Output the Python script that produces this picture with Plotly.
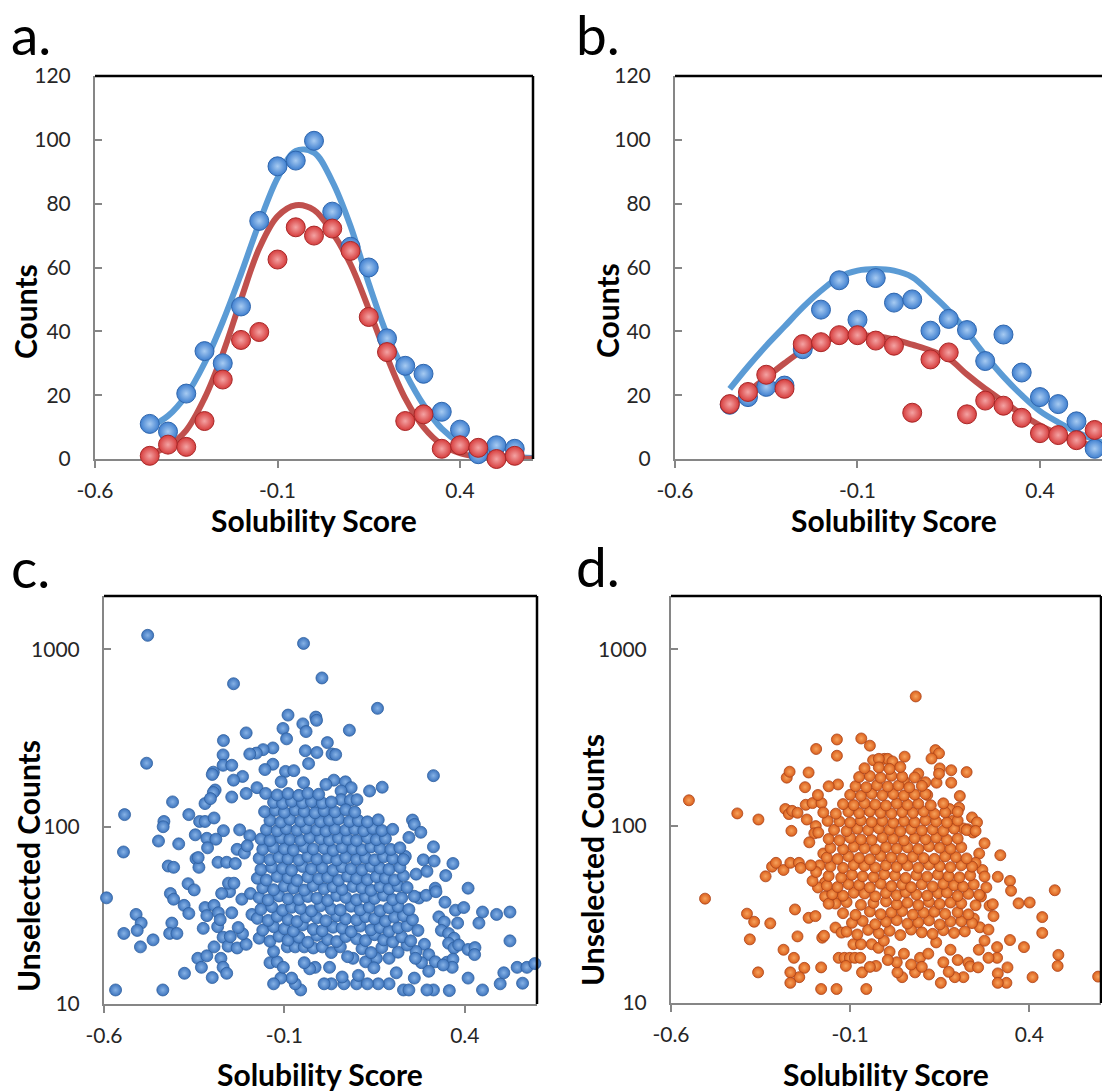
import plotly.graph_objects as go

# ---------------- Panel a ----------------
a_score = [-0.45, -0.40, -0.35, -0.30, -0.25, -0.20, -0.15, -0.10, -0.05, 0.00, 0.05,
           0.10, 0.15, 0.20, 0.25, 0.30, 0.35, 0.40, 0.45, 0.50, 0.55]
a_blue = [11.0, 8.6, 20.5, 33.8, 30.0, 47.8, 74.6, 91.7, 93.5, 99.7, 77.5,
          66.5, 60.0, 37.8, 29.2, 26.7, 14.8, 9.2, 1.5, 4.3, 3.2]
a_red = [1.0, 4.5, 3.8, 11.9, 24.9, 37.3, 39.8, 62.5, 72.6, 70.0, 72.2,
         65.2, 44.5, 33.5, 11.9, 14.0, 3.2, 4.3, 3.5, 0.0, 1.0]
fit_score = [-0.45, -0.40, -0.35, -0.30, -0.25, -0.20, -0.15, -0.10, -0.05, 0.00, 0.05,
             0.10, 0.15, 0.20, 0.25, 0.30, 0.35, 0.40, 0.45, 0.50, 0.55, 0.60]
a_blue_fit = [10.0, 13.5, 20.0, 30.0, 43.0, 58.0, 74.0, 88.0, 96.5, 96.0, 87.0,
              73.0, 55.0, 39.0, 27.0, 17.0, 9.5, 5.0, 2.5, 1.2, 0.6, 0.3]
a_red_fit = [1.5, 4.0, 9.0, 19.0, 33.0, 50.0, 66.0, 76.0, 79.5, 78.0, 71.0,
             61.0, 47.0, 32.0, 19.0, 10.0, 4.5, 1.8, 0.7, 0.3, 0.1, 0.05]

# ---------------- Panel b ----------------
b_score = [-0.45, -0.40, -0.35, -0.30, -0.25, -0.20, -0.15, -0.10, -0.05, 0.00, 0.05,
           0.10, 0.15, 0.20, 0.25, 0.30, 0.35, 0.40, 0.45, 0.50, 0.55]
b_blue = [17.0, 19.4, 22.6, 23.0, 34.4, 46.8, 56.0, 43.6, 56.7, 49.0, 50.0,
          40.2, 43.9, 40.4, 30.7, 39.0, 27.1, 19.4, 17.2, 11.8, 3.2]
b_red = [17.2, 21.0, 26.4, 22.0, 36.0, 36.6, 38.8, 38.8, 37.1, 35.5, 14.5,
         31.2, 33.4, 14.0, 18.3, 16.7, 12.9, 8.1, 7.5, 5.9, 9.1]
b_blue_fit = [22.0, 29.0, 35.5, 41.5, 47.5, 52.7, 57.0, 59.0, 59.5, 59.0, 57.0,
              52.0, 46.5, 39.8, 32.5, 25.8, 20.0, 15.0, 11.5, 8.5, 6.0, 4.0]
b_red_fit = [16.0, 21.0, 25.5, 30.0, 34.0, 36.6, 38.2, 38.8, 38.5, 37.5, 35.8,
             34.0, 31.5, 26.5, 22.0, 18.0, 14.0, 10.5, 7.8, 5.6, 4.0, 2.8]

# ---------------- Panel c (blue scatter) ----------------
c_score_out = [
    -0.479, -0.047, 0.004, -0.241, 0.158, -0.090, -0.104, -0.094, -0.049, -0.040,
    -0.013, -0.011, 0.080, -0.206, -0.269, 0.019, -0.042, -0.010, -0.132, -0.159,
    -0.178, -0.196, -0.270, 0.032, 0.042, -0.033, -0.132, -0.270, -0.246, -0.154,
    -0.097, -0.074, -0.297, -0.300, -0.482, 0.313, -0.216, -0.241, -0.109, -0.047,
    0.037, 0.069, 0.015, 0.085, 0.171, 0.136, 0.057, -0.292, -0.176, -0.152,
    -0.206, -0.246, 0.057, 0.083, 0.101, -0.013, -0.297, -0.320, -0.410, -0.305,
    -0.543, -0.546, -0.434, -0.436, -0.365, -0.335, -0.320, -0.295, -0.269, -0.347,
    -0.315, -0.290, -0.313, -0.449, -0.393, -0.345, -0.337, -0.422, -0.407, -0.593,
    -0.511, -0.497, -0.508, -0.545, -0.499, -0.464, -0.568, -0.437, -0.416, -0.407,
    -0.412, -0.418, -0.398, -0.378, -0.365, -0.367, -0.350, -0.339, -0.377, -0.340,
    -0.330, -0.315, -0.300, -0.276, -0.270, -0.260, -0.295, -0.325, -0.320, -0.315,
    -0.295, -0.285, -0.283, -0.278, -0.270, -0.256, -0.231, -0.206, -0.216, -0.246,
    -0.252, -0.255, -0.240, -0.274, -0.284, -0.260, -0.231, -0.236, -0.211, -0.224,
    -0.196, -0.203, -0.218, -0.194, -0.250, -0.228, -0.190,
    0.235, 0.255, 0.260, 0.278, 0.245, 0.313, 0.285, 0.315, 0.265, 0.295,
    0.347, 0.367, 0.318, 0.273, 0.293, 0.320, 0.345, 0.409, 0.374, 0.397,
    0.449, 0.488, 0.525, 0.380, 0.439, 0.328, 0.343, 0.335, 0.355, 0.370,
    0.355, 0.370, 0.383, 0.409, 0.428, 0.427, 0.525, 0.288, 0.265, 0.300,
    0.318, 0.280, 0.263, 0.350, 0.367, 0.365, 0.340, 0.300, 0.260, 0.409,
    0.449, 0.498, 0.508, 0.545, 0.572, 0.594, 0.560, 0.357, 0.313, 0.295,
    0.230, 0.245,
    0.190, 0.210, 0.160, 0.190, 0.155, 0.125, 0.148, 0.100, 0.105, 0.130,
    0.090, 0.065, 0.060, 0.030, 0.010, 0.025, -0.015, -0.030, -0.045, -0.055,
    -0.070, -0.080, -0.110, -0.130, -0.140, -0.120, -0.103, -0.130, -0.092, -0.070,
    -0.045, -0.020, 0.005, 0.030, 0.055, 0.075, 0.115, 0.140, 0.170, 0.215,
    0.240,
]
c_counts_out = [
    1200, 1080, 690, 640, 465, 426, 358, 313, 380, 344,
    415, 398, 350, 338, 306, 298, 268, 262, 278, 272,
    260, 257, 254, 257, 255, 227, 225, 222, 222, 210,
    205, 207, 203, 197, 228, 194, 192, 183, 179, 177,
    183, 179, 173, 166, 167, 159, 159, 161, 166, 154,
    154, 147, 142, 141, 142, 135, 156, 135, 138, 144,
    117, 72, 107, 100, 117, 107, 107, 112, 95, 90,
    86, 85, 76, 83, 80, 66, 59, 60, 59, 39.7,
    32, 28.6, 26, 25, 21, 23, 12, 12, 42, 39,
    28.6, 25, 25, 36, 32.4, 47.7, 44, 67, 14.9, 18.1,
    16.1, 18.7, 14.1, 18.1, 16.1, 14.9, 21, 26.7, 35, 31.5,
    36, 27.3, 32.7, 29.9, 23.8, 21.2, 20.7, 21.7, 24.9, 32.7,
    43, 48, 48, 42, 63, 63, 74.5, 62, 71, 96,
    89, 78, 39, 42, 24, 27, 32,
    68, 109, 103, 93, 87, 77, 65, 64, 54, 56,
    53, 62, 45, 39.6, 41, 43, 37.5, 45, 33.8, 35,
    33, 32, 33, 28.6, 28.6, 31, 29, 26, 25, 23.5,
    22, 20.7, 21.5, 20.3, 20.8, 19, 22.7, 21.7, 19.8, 19,
    17.3, 17.1, 18.1, 17.2, 17.9, 16.1, 16.6, 15.3, 14, 14,
    12, 13, 15, 16.1, 16.1, 16.9, 13.1, 11.9, 12, 12,
    12, 12,
    13, 15, 13, 18.1, 18.1, 17.3, 16, 13, 14.5, 13,
    18.1, 13, 14.2, 13, 13, 16.1, 16.1, 15.8, 17.1, 12,
    13, 14, 14, 13, 17.1, 17.3, 16.1, 19.8, 21, 21,
    21, 20.7, 21, 19.5, 21, 18.5, 20.5, 19.5, 20.8, 19.6,
    21.5,
]
c_score_core = [
    -0.170, -0.140, -0.115, -0.090, -0.060, -0.035, -0.010, 0.020, 0.045, 0.070, 0.100, 0.125, 0.150, 0.175, 0.200, 0.225, 0.250,
    -0.160, -0.130, -0.100, -0.075, -0.050, -0.020, 0.005, 0.035, 0.060, 0.085, 0.110, 0.140, 0.165, 0.190, 0.215, 0.240, 0.270,
    -0.175, -0.145, -0.120, -0.090, -0.065, -0.040, -0.010, 0.015, 0.045, 0.070, 0.100, 0.125, 0.150, 0.180, 0.205, 0.230, 0.255,
    -0.165, -0.135, -0.105, -0.080, -0.055, -0.025, 0.000, 0.030, 0.055, 0.085, 0.110, 0.135, 0.165, 0.190, 0.215, 0.245,
    -0.170, -0.145, -0.115, -0.090, -0.060, -0.035, -0.010, 0.020, 0.045, 0.070, 0.100, 0.125, 0.150, 0.175, 0.200, 0.225, 0.260,
    -0.160, -0.130, -0.100, -0.075, -0.045, -0.020, 0.010, 0.035, 0.060, 0.090, 0.115, 0.140, 0.165, 0.190, 0.215, 0.240,
    -0.175, -0.150, -0.120, -0.090, -0.065, -0.035, -0.005, 0.020, 0.050, 0.075, 0.100, 0.130, 0.155, 0.180, 0.205, 0.230,
    -0.165, -0.135, -0.105, -0.080, -0.050, -0.025, 0.005, 0.035, 0.060, 0.085, 0.115, 0.140, 0.165, 0.190, 0.220,
    -0.170, -0.140, -0.115, -0.090, -0.060, -0.035, -0.010, 0.020, 0.045, 0.070, 0.100, 0.125, 0.150, 0.175, 0.200, 0.230,
    -0.160, -0.130, -0.100, -0.075, -0.045, -0.020, 0.010, 0.035, 0.060, 0.090, 0.115, 0.140, 0.165, 0.195, 0.220,
    -0.165, -0.140, -0.110, -0.085, -0.055, -0.030, 0.000, 0.025, 0.050, 0.075, 0.100, 0.130, 0.155, 0.180,
    -0.150, -0.120, -0.095, -0.065, -0.040, -0.010, 0.015, 0.040, 0.070, 0.095, 0.120, 0.145, 0.170, 0.200,
    -0.140, -0.110, -0.085, -0.055, -0.030, 0.000, 0.025, 0.050, 0.080, 0.105, 0.130, 0.160,
    -0.155, -0.125, -0.100, -0.070, -0.045, -0.015, 0.010, 0.040, 0.070, 0.095,
    -0.130, -0.105, -0.080, -0.050, -0.025, 0.005, 0.030,
    -0.120, -0.090, -0.060, -0.035, -0.005,
]
c_counts_core = [
    23.5, 22.6, 24.1, 22.9, 23.8, 22.3, 24.4, 23.1, 22.5, 24.0, 23.3, 22.8, 24.6, 23.0, 22.4, 23.9, 22.7,
    26.1, 27.3, 26.6, 25.8, 27.9, 26.4, 25.9, 27.1, 26.8, 25.6, 27.5, 26.2, 27.0, 25.7, 26.9, 27.6, 26.0,
    30.4, 29.6, 31.2, 30.0, 29.2, 31.0, 30.6, 29.5, 31.4, 30.2, 29.8, 31.1, 30.3, 29.4, 30.9, 31.5, 29.9,
    34.2, 35.4, 33.8, 35.1, 34.6, 33.5, 35.8, 34.3, 33.9, 35.6, 34.0, 35.2, 33.6, 34.9, 35.5, 34.1,
    39.8, 38.6, 40.7, 39.2, 38.9, 40.4, 39.5, 38.4, 40.9, 39.9, 38.7, 40.2, 39.4, 41.0, 38.8, 39.7, 40.5,
    45.3, 44.1, 46.2, 45.0, 43.9, 46.5, 44.6, 45.8, 44.3, 46.0, 45.1, 43.8, 45.9, 44.7, 46.3, 45.4,
    51.2, 50.0, 52.4, 51.6, 49.8, 52.0, 50.9, 51.8, 49.9, 52.6, 51.1, 50.3, 52.2, 51.4, 50.1, 52.8,
    57.4, 59.0, 58.2, 56.8, 59.6, 57.9, 58.6, 56.9, 59.3, 58.0, 57.2, 59.8, 58.4, 57.5, 59.1,
    66.3, 65.1, 67.4, 66.0, 64.8, 67.9, 65.7, 66.6, 64.9, 67.2, 65.5, 66.8, 65.0, 67.6, 66.1, 65.3,
    74.6, 76.2, 75.1, 73.8, 76.8, 74.9, 75.6, 73.6, 76.4, 75.0, 74.2, 76.9, 75.3, 74.4, 76.0,
    85.2, 83.6, 86.4, 84.8, 83.9, 86.9, 85.5, 84.1, 86.2, 85.0, 83.7, 86.6, 84.5, 85.8,
    96.4, 94.8, 97.6, 95.5, 98.2, 96.0, 94.6, 97.2, 95.8, 96.9, 94.9, 97.8, 95.2, 96.6,
    108.5, 106.2, 110.1, 107.4, 109.6, 106.8, 108.9, 110.6, 107.1, 108.2, 106.5, 109.3,
    121.5, 123.8, 120.6, 124.2, 122.0, 119.8, 123.1, 121.2, 124.6, 120.9,
    137.2, 135.4, 139.0, 136.3, 138.5, 135.9, 137.8,
    151.0, 153.8, 150.2, 154.5, 152.3,
]

# ---------------- Panel d (orange scatter) ----------------
d_score_out = [
    0.083, -0.550, -0.415, -0.356, -0.505, -0.388, -0.368, -0.323, -0.380, -0.357,
    -0.286, -0.336, -0.318, -0.307, -0.286, -0.267, -0.243, -0.238, -0.264, -0.277,
    -0.269, -0.195, -0.137, -0.069, -0.045, -0.137, 0.052, -0.216, -0.134, -0.160,
    -0.226, -0.281, -0.271, -0.262, -0.247, -0.224, -0.205, -0.180, -0.221, -0.196,
    -0.200, -0.189, -0.214, -0.163, 0.138, 0.148, 0.127, -0.005, 0.005, 0.018,
    -0.036, -0.020, 0.182, 0.225, 0.182, 0.141, 0.150, 0.148, 0.090, 0.110,
    0.115, 0.050, 0.206, 0.204, 0.177, 0.185, 0.240, 0.254, 0.216, 0.228,
    0.243, 0.319, 0.269, 0.312, 0.346, 0.349, 0.370, 0.401, 0.436, 0.436,
    0.471, 0.481, 0.479, 0.409, 0.592, 0.385, 0.346, 0.310, 0.310, 0.312,
    0.336, 0.312, 0.339, 0.289, 0.298, 0.262, 0.286, 0.259, 0.286, 0.230,
    0.235, 0.257, 0.216, 0.192, 0.153, 0.081, 0.045, 0.032, -0.055, -0.138,
    -0.181, -0.181, -0.228, -0.242, -0.267, -0.267, -0.257, -0.254, -0.247, -0.216,
    -0.197, -0.178, -0.173, -0.141, -0.124, -0.136, -0.141, -0.155, -0.170, -0.132,
    -0.116, -0.101, -0.087, -0.072, -0.112, -0.067, -0.028, -0.091, -0.070, -0.040,
    -0.021, -0.006, 0.010, 0.030, 0.050, 0.070, 0.095, 0.118, 0.140, 0.160,
    0.180, 0.200, 0.120, 0.175, 0.100, 0.005, -0.045, -0.170, -0.185, -0.175,
    -0.190, 0.260, 0.275, 0.250, 0.280, 0.265, 0.300, 0.245, 0.275, -0.190,
    -0.205, -0.195, -0.210,
]
d_counts_out = [
    541, 140, 118, 109, 38.9, 32, 28.8, 28.2, 22.9, 14.9,
    20, 52, 59, 62, 56.5, 62, 62, 58, 94, 188,
    203, 273, 309, 313, 285, 250, 247, 201, 172, 168,
    166, 125, 117, 122, 119, 132, 135, 135, 109, 100,
    91, 92, 81, 107, 269, 258, 241, 240, 240, 232,
    236, 240, 207, 202, 176, 176, 212, 198, 198, 177,
    150, 180, 148, 127, 125, 107, 112, 105, 97, 96,
    92, 68.5, 56.5, 51.7, 49, 43.1, 36.6, 37, 30.6, 24.9,
    43.4, 18.7, 16.2, 14, 14.1, 20.7, 22.7, 20.7, 18, 14.7,
    13, 13, 15.9, 35.5, 36.2, 26.8, 26, 20, 18, 16.9,
    16.1, 15.9, 14, 14, 13, 14.9, 14, 14.9, 12, 12,
    12, 15.9, 15.8, 14, 14.9, 13, 18, 33.8, 23.8, 30.3,
    31, 23.4, 24, 26.7, 25, 39.5, 36.5, 40.5, 40, 18,
    18, 18, 18, 18, 16.2, 14.9, 16.2, 21.5, 21.5, 21.5,
    20.5, 22.5, 19.5, 17, 19, 16.5, 18, 19, 22, 17,
    20, 17.5, 14.5, 15, 16, 17.5, 16, 48, 60, 70,
    150, 70, 80, 62, 45, 40, 31, 30, 22.5, 45,
    49, 55, 60,
]
d_score_core = [
    -0.110, -0.080, -0.050, -0.020, 0.010, 0.040, 0.070, 0.100, 0.130, 0.160, 0.190, 0.220,
    -0.095, -0.065, -0.030, 0.000, 0.030, 0.060, 0.090, 0.120, 0.150, 0.180, 0.210, 0.240,
    -0.120, -0.085, -0.045, -0.015, 0.015, 0.045, 0.075, 0.105, 0.135, 0.165, 0.200, 0.230,
    -0.160, -0.110, -0.070, -0.035, 0.000, 0.030, 0.060, 0.090, 0.120, 0.150, 0.180, 0.210, 0.250,
    -0.150, -0.120, -0.090, -0.060, -0.030, 0.000, 0.030, 0.055, 0.085, 0.115, 0.145, 0.170, 0.200, 0.230, 0.260,
    -0.165, -0.135, -0.105, -0.075, -0.045, -0.015, 0.015, 0.045, 0.070, 0.100, 0.130, 0.160, 0.190, 0.215, 0.245,
    -0.160, -0.125, -0.095, -0.065, -0.035, -0.005, 0.025, 0.055, 0.085, 0.115, 0.145, 0.175, 0.205, 0.235, 0.275,
    -0.155, -0.120, -0.090, -0.060, -0.030, 0.000, 0.030, 0.060, 0.090, 0.120, 0.150, 0.180, 0.210, 0.240,
    -0.165, -0.135, -0.105, -0.075, -0.045, -0.015, 0.015, 0.045, 0.075, 0.105, 0.135, 0.165, 0.195, 0.225,
    -0.155, -0.120, -0.090, -0.060, -0.030, 0.000, 0.030, 0.060, 0.090, 0.120, 0.150, 0.180, 0.210,
    -0.160, -0.130, -0.100, -0.070, -0.040, -0.010, 0.020, 0.050, 0.080, 0.110, 0.140, 0.170, 0.200,
    -0.145, -0.110, -0.080, -0.050, -0.020, 0.010, 0.040, 0.070, 0.100, 0.130, 0.160, 0.190, 0.225, 0.250,
    -0.130, -0.100, -0.070, -0.040, -0.010, 0.020, 0.050, 0.080, 0.110, 0.140, 0.170, 0.200,
    -0.175, -0.140, -0.105, -0.075, -0.045, -0.015, 0.015, 0.045, 0.075, 0.105, 0.135, 0.165, 0.200,
    -0.120, -0.090, -0.060, -0.030, 0.000, 0.030, 0.060, 0.090, 0.125, 0.160,
    -0.100, -0.070, -0.040, -0.010, 0.020, 0.050, 0.080, 0.110,
    -0.085, -0.055, -0.025, 0.005, 0.035, 0.065, 0.100,
    -0.075, -0.045, -0.015, 0.015, 0.045, 0.080,
    -0.060, -0.020, 0.010, 0.040,
]
d_counts_core = [
    25.3, 24.4, 25.9, 24.8, 25.6, 24.2, 26.0, 25.1, 24.6, 25.8, 24.9, 25.4,
    28.4, 29.1, 27.9, 28.8, 29.4, 28.1, 28.6, 29.3, 27.8, 28.9, 29.0, 28.3,
    32.2, 31.5, 32.9, 31.8, 32.5, 33.1, 31.6, 32.4, 32.8, 31.9, 32.6, 31.7,
    36.4, 37.2, 35.9, 36.8, 37.5, 36.1, 36.9, 35.8, 37.3, 36.3, 37.0, 36.6, 35.7,
    41.2, 40.4, 42.0, 41.6, 40.1, 41.9, 40.7, 42.3, 41.0, 40.5, 41.8, 42.1, 40.3, 41.4, 40.9,
    46.1, 45.3, 47.0, 46.5, 45.0, 47.3, 45.8, 46.7, 45.2, 46.9, 45.6, 47.2, 46.3, 45.5, 46.8,
    52.3, 51.2, 53.1, 52.0, 51.5, 53.4, 52.6, 51.0, 52.9, 51.8, 53.2, 52.1, 51.4, 52.7, 51.9,
    59.2, 58.1, 60.3, 59.6, 58.4, 60.0, 58.8, 59.9, 58.2, 60.5, 59.4, 58.6, 60.1, 59.0,
    66.4, 65.2, 67.5, 66.1, 65.0, 67.8, 66.6, 65.5, 67.1, 66.0, 65.3, 67.4, 66.8, 65.7,
    75.3, 74.1, 76.5, 75.0, 73.9, 76.2, 74.7, 75.8, 74.3, 76.8, 75.5, 74.5, 76.0,
    84.6, 83.2, 85.9, 84.1, 83.5, 86.3, 84.9, 83.0, 85.4, 84.3, 86.0, 83.7, 85.1,
    95.2, 93.8, 96.6, 94.9, 97.0, 95.5, 93.6, 96.2, 94.6, 95.9, 94.1, 96.8, 95.0, 93.9,
    106.4, 104.9, 107.8, 105.6, 107.2, 104.5, 106.9, 105.2, 108.0, 106.1, 104.7, 107.5,
    119.4, 117.6, 120.8, 118.5, 121.3, 119.0, 117.9, 120.2, 118.9, 121.0, 117.4, 119.7, 120.5,
    133.2, 131.5, 134.8, 132.6, 130.9, 134.1, 132.0, 133.9, 131.2, 134.5,
    150.3, 148.2, 152.5, 149.6, 151.8, 148.8, 150.9, 152.0,
    168.2, 166.0, 170.4, 167.5, 169.8, 165.6, 168.9,
    189.5, 191.8, 187.9, 192.6, 190.2, 188.4,
    212.5, 214.8, 210.6, 216.0,
]

x_ticks = [-0.6, -0.1, 0.4]
x_tick_text = ["-0.6", "-0.1", "0.4"]
lin_ticks = [0, 20, 40, 60, 80, 100, 120]
log_ticks = [10, 100, 1000]
panel_letters = ["a.", "b.", "c.", "d."]
x_title = "Solubility Score"
y_title_top = "Counts"
y_title_bottom = "Unselected Counts"

# ---------------- Layout helpers ----------------
W, H = 1102, 1091
FONT = "Lato"
TICK_FONT = dict(family=FONT, size=21, color="#262626")
TITLE_FONT = dict(family=FONT, size=30, color="#000000")
AXIS_GRAY = "#868686"

BLUE_LINE = "#5b9bd5"
RED_LINE = "#c0504d"


def px_x(p):
    return p / W


def px_y(p):
    return 1 - p / H


fig = go.Figure()


def big_marker(edge, center, line):
    return dict(size=19, color=edge, line=dict(color=line, width=1),
                gradient=dict(type="radial", color=center))


def add_fit_panel(xa, ya, pts_x, blue, red, fx, bfit, rfit):
    fig.add_trace(go.Scatter(x=fx, y=bfit, mode="lines", line=dict(color=BLUE_LINE, width=6, shape="spline"),
                             xaxis=xa, yaxis=ya, showlegend=False, hoverinfo="skip"))
    fig.add_trace(go.Scatter(x=fx, y=rfit, mode="lines", line=dict(color=RED_LINE, width=6, shape="spline"),
                             xaxis=xa, yaxis=ya, showlegend=False, hoverinfo="skip"))
    fig.add_trace(go.Scatter(x=pts_x, y=blue, mode="markers", cliponaxis=False,
                             marker=big_marker("#3f7fcf", "#a7cbf2", "#2f66ad"),
                             xaxis=xa, yaxis=ya, showlegend=False))
    fig.add_trace(go.Scatter(x=pts_x, y=red, mode="markers", cliponaxis=False,
                             marker=big_marker("#d63c3c", "#f4a3a3", "#a82828"),
                             xaxis=xa, yaxis=ya, showlegend=False))


add_fit_panel("x", "y", a_score, a_blue, a_red, fit_score, a_blue_fit, a_red_fit)
add_fit_panel("x2", "y2", b_score, b_blue, b_red, fit_score, b_blue_fit, b_red_fit)

c_x = c_score_out + c_score_core
c_y = c_counts_out + c_counts_core
d_x = d_score_out + d_score_core
d_y = d_counts_out + d_counts_core
nc = min(len(c_x), len(c_y))
nd = min(len(d_x), len(d_y))

fig.add_trace(go.Scatter(x=c_x[:nc], y=c_y[:nc], mode="markers", cliponaxis=False,
                         marker=dict(size=12, color="#3d74bd", line=dict(color="#2f5f9e", width=0.8),
                                     gradient=dict(type="radial", color="#86b2e6")),
                         xaxis="x3", yaxis="y3", showlegend=False))
fig.add_trace(go.Scatter(x=d_x[:nd], y=d_y[:nd], mode="markers", cliponaxis=False,
                         marker=dict(size=11, color="#db5f1c", line=dict(color="#a9441a", width=0.8),
                                     gradient=dict(type="radial", color="#f7a35c")),
                         xaxis="x4", yaxis="y4", showlegend=False))

common_x = dict(showline=True, linecolor=AXIS_GRAY, linewidth=2, ticks="outside", ticklen=7,
                tickcolor=AXIS_GRAY, tickwidth=2, tickvals=x_ticks, ticktext=x_tick_text,
                tickfont=TICK_FONT, showgrid=False, zeroline=False, layer="below traces",
                ticklabelstandoff=5, fixedrange=True, automargin=False)
common_y = dict(showline=True, linecolor=AXIS_GRAY, linewidth=2, ticks="inside", ticklen=7,
                tickcolor=AXIS_GRAY, tickwidth=2, tickfont=TICK_FONT, showgrid=False,
                zeroline=False, layer="below traces", ticklabelstandoff=18, fixedrange=True,
                automargin=False)

fig.update_layout(
    width=W, height=H, margin=dict(l=0, r=0, t=0, b=0, autoexpand=False),
    paper_bgcolor="white", plot_bgcolor="white",
    xaxis=dict(common_x, domain=[px_x(95), px_x(533)], range=[-0.6, 0.6], anchor="y"),
    yaxis=dict(common_y, domain=[px_y(459), px_y(76)], range=[0, 120], tickvals=lin_ticks, anchor="x"),
    xaxis2=dict(common_x, domain=[px_x(675), 1.0], range=[-0.6, 0.57], anchor="y2"),
    yaxis2=dict(common_y, domain=[px_y(459), px_y(76)], range=[0, 120], tickvals=lin_ticks, anchor="x2"),
    xaxis3=dict(common_x, domain=[px_x(104), px_x(537)], range=[-0.6, 0.6], anchor="y3"),
    yaxis3=dict(common_y, type="log", domain=[px_y(1004), px_y(596)], range=[1, 3.301],
                tickvals=log_ticks, ticktext=["10", "100", "1000"], anchor="x3"),
    xaxis4=dict(common_x, domain=[px_x(671), px_x(1101)], range=[-0.6, 0.6], anchor="y4"),
    yaxis4=dict(common_y, type="log", domain=[px_y(1003), px_y(596)], range=[1, 3.301],
                tickvals=log_ticks, ticktext=["10", "100", "1000"], anchor="x4"),
)

# black top / right frame lines
frame = [("x", "y", True), ("x2", "y2", False), ("x3", "y3", True), ("x4", "y4", True)]
for xa, ya, right in frame:
    xr = xa + " domain"
    yr = ya + " domain"
    fig.add_shape(type="line", xref=xr, yref=yr, x0=0, x1=1, y0=1, y1=1,
                  line=dict(color="black", width=2.5))
    if right:
        fig.add_shape(type="line", xref=xr, yref=yr, x0=1, x1=1, y0=0, y1=1,
                      line=dict(color="black", width=2.5))

# panel letters
letter_pos = [(9, 34), (574, 34), (9, 567), (574, 566)]
for txt, (lx, ly) in zip(panel_letters, letter_pos):
    fig.add_annotation(text=txt, x=px_x(lx), y=px_y(ly), xref="paper", yref="paper",
                       xanchor="left", yanchor="middle", showarrow=False,
                       font=dict(family=FONT, size=55, color="black"))

# x-axis titles
for cx, cy in [(314, 520), (894, 520), (320, 1074), (886, 1074)]:
    fig.add_annotation(text="<b>%s</b>" % x_title, x=px_x(cx), y=px_y(cy), xref="paper", yref="paper",
                       xanchor="center", yanchor="middle", showarrow=False, font=TITLE_FONT)

# y-axis titles
for txt, cx, cy in [(y_title_top, 25, 312), (y_title_top, 607, 311),
                    (y_title_bottom, 28, 866), (y_title_bottom, 592, 860)]:
    fig.add_annotation(text="<b>%s</b>" % txt, x=px_x(cx), y=px_y(cy), xref="paper", yref="paper",
                       xanchor="center", yanchor="middle", textangle=-90, showarrow=False,
                       font=TITLE_FONT)

fig.write_html("out.html")
